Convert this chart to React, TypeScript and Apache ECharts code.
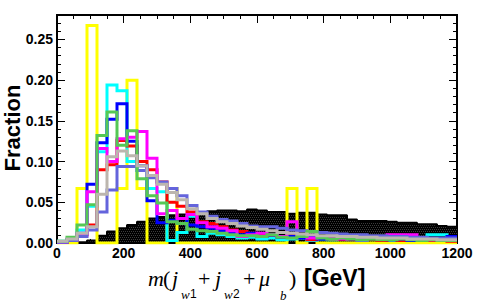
import { useEffect, useRef } from "react";
import * as echarts from "echarts";

// Bin edges (GeV), 30 GeV bins from 0 to 1200
const binEdges = [
  0, 30, 60, 90, 120, 150, 180, 210, 240, 270, 300, 330, 360, 390, 420, 450, 480, 510, 540, 570,
  600, 630, 660, 690, 720, 750, 780, 810, 840, 870, 900, 930, 960, 990, 1020, 1050, 1080, 1110, 1140, 1170, 1200,
];

const xTicks = [0, 200, 400, 600, 800, 1000, 1200];
const yTicks = [0.0, 0.05, 0.1, 0.15, 0.2, 0.25];

// Filled black background histogram
const blackFill = [
  0, 0, 0.001, 0.003, 0.009, 0.014, 0.018, 0.022, 0.026, 0.03, 0.032, 0.034, 0.035, 0.036, 0.038, 0.039, 0.04, 0.04, 0.039, 0.041,
  0.04, 0.038, 0.038, 0.036, 0.037, 0.037, 0.035, 0.034, 0.034, 0.029, 0.027, 0.027, 0.027, 0.026, 0.025, 0.025, 0.023, 0.023, 0.021, 0.02,
];

const yellow = [
  0, 0, 0.067, 0.267, 0, 0, 0.067, 0.2, 0.067, 0, 0, 0.067, 0, 0, 0, 0, 0, 0, 0, 0,
  0, 0, 0, 0.067, 0, 0.067, 0, 0, 0, 0, 0, 0, 0, 0, 0, 0, 0, 0, 0, 0,
];

const cyan = [
  0.002, 0.005, 0.016, 0.045, 0.112, 0.194, 0.187, 0.1, 0.089, 0.067, 0.063, 0.003, 0.013, 0.033, 0.008, 0.012, 0.01, 0.008, 0.006, 0.007,
  0.005, 0.006, 0.004, 0.005, 0.006, 0.003, 0.005, 0.004, 0.006, 0.004, 0.003, 0.005, 0.004, 0.003, 0.004, 0.003, 0.006, 0.01, 0.01, 0.004,
];

const red = [
  0.001, 0.003, 0.01, 0.022, 0.09, 0.096, 0.126, 0.119, 0.1, 0.09, 0.075, 0.05, 0.045, 0.038, 0.026, 0.024, 0.02, 0.016, 0.014, 0.012,
  0.01, 0.01, 0.008, 0.009, 0.007, 0.004, 0.006, 0.005, 0.005, 0.004, 0.004, 0.005, 0.003, 0.004, 0.003, 0.003, 0.004, 0.003, 0.003, 0.002,
];

const blue = [
  0.001, 0.004, 0.012, 0.072, 0.123, 0.152, 0.171, 0.125, 0.095, 0.052, 0.025, 0.028, 0.03, 0.022, 0.02, 0.018, 0.015, 0.012, 0.01, 0.012,
  0.008, 0.01, 0.007, 0.008, 0.006, 0.008, 0.005, 0.006, 0.007, 0.005, 0.004, 0.006, 0.005, 0.004, 0.005, 0.003, 0.004, 0.005, 0.004, 0.008,
];

const magenta = [
  0.001, 0.004, 0.01, 0.063, 0.116, 0.1, 0.128, 0.13, 0.137, 0.104, 0.036, 0.04, 0.03, 0.035, 0.025, 0.02, 0.018, 0.015, 0.008, 0.01,
  0.012, 0.01, 0.008, 0.026, 0.008, 0.006, 0.008, 0.006, 0.005, 0.006, 0.004, 0.008, 0.006, 0.01, 0.01, 0.01, 0.005, 0.004, 0.005, 0.004,
];

const slate = [
  0.001, 0.003, 0.008, 0.016, 0.038, 0.065, 0.094, 0.094, 0.089, 0.08, 0.075, 0.067, 0.058, 0.046, 0.038, 0.033, 0.029, 0.027, 0.024, 0.021,
  0.02, 0.02, 0.018, 0.016, 0.015, 0.014, 0.013, 0.012, 0.011, 0.01, 0.01, 0.009, 0.009, 0.008, 0.008, 0.007, 0.007, 0.006, 0.006, 0.006,
];

const green = [
  0.002, 0.007, 0.022, 0.047, 0.132, 0.161, 0.12, 0.138, 0.079, 0.058, 0.049, 0.026, 0.024, 0.017, 0.015, 0.014, 0.012, 0.01, 0.009, 0.009,
  0.008, 0.01, 0.007, 0.006, 0.008, 0.014, 0.006, 0.005, 0.006, 0.005, 0.004, 0.005, 0.004, 0.004, 0.005, 0.004, 0.003, 0.004, 0.003, 0.003,
];

const gray = [
  0.002, 0.005, 0.012, 0.02, 0.06, 0.106, 0.113, 0.107, 0.095, 0.083, 0.072, 0.062, 0.053, 0.042, 0.036, 0.03, 0.026, 0.024, 0.021, 0.019,
  0.017, 0.015, 0.013, 0.012, 0.011, 0.01, 0.009, 0.009, 0.008, 0.008, 0.007, 0.007, 0.006, 0.006, 0.006, 0.005, 0.005, 0.005, 0.004, 0.004,
];

const lineSeries = [
  { name: "yellow", values: yellow, color: "#ffff00" },
  { name: "cyan", values: cyan, color: "#00ffff" },
  { name: "red", values: red, color: "#ff0000" },
  { name: "blue", values: blue, color: "#0000ff" },
  { name: "magenta", values: magenta, color: "#ff00ff" },
  { name: "slate", values: slate, color: "#6464dc" },
  { name: "green", values: green, color: "#55c855" },
  { name: "gray", values: gray, color: "#bcb6ae" },
];

function stepData(vals: number[]) {
  const pts = vals.map((v, i) => [binEdges[i], v]);
  pts.push([binEdges[binEdges.length - 1], vals[vals.length - 1]]);
  return pts;
}

const SANS = "'Liberation Sans', Arial, Helvetica, sans-serif";
const SERIF = "'Liberation Serif', 'Times New Roman', serif";

export default function App() {
  const ref = useRef<HTMLDivElement>(null);

  useEffect(() => {
    document.body.style.margin = "0";
    if (!ref.current) return;
    const chart = echarts.init(ref.current, undefined, { renderer: "svg" });

    const c = document.createElement("canvas");
    c.width = 4;
    c.height = 4;
    const ctx = c.getContext("2d");
    if (ctx) {
      ctx.fillStyle = "#000";
      ctx.fillRect(0, 0, 4, 4);
      ctx.fillStyle = "#3c3c3c";
      ctx.fillRect(0, 1, 1, 1);
      ctx.fillRect(2, 1, 1, 1);
      ctx.fillRect(1, 3, 1, 1);
      ctx.fillRect(3, 3, 1, 1);
    }

    const axisLineStyle = { color: "#000", width: 2 };
    const xBase = {
      type: "value",
      min: xTicks[0],
      max: xTicks[xTicks.length - 1],
      interval: xTicks[1] - xTicks[0],
      axisLine: { show: true, onZero: false, lineStyle: axisLineStyle },
      axisTick: { show: true, inside: true, length: 8, lineStyle: { color: "#000", width: 1 } },
      minorTick: { show: true, splitNumber: 4, length: 4, lineStyle: { color: "#000", width: 1 } },
      splitLine: { show: false },
      minorSplitLine: { show: false },
    };
    const yMax = 0.28;
    const isMajor = (v: number) => yTicks.some((t) => Math.abs(t - v) < 1e-6);
    const yMajor = {
      type: "value",
      min: 0,
      max: yMax,
      interval: yTicks[1] - yTicks[0],
      axisLine: { show: true, onZero: false, lineStyle: axisLineStyle },
      axisTick: { show: true, inside: true, length: 8, lineStyle: { color: "#000", width: 1 } },
      splitLine: { show: false },
    };
    const yMinor = {
      type: "value",
      min: 0,
      max: yMax,
      interval: 0.01,
      axisLine: { show: true, onZero: false, lineStyle: axisLineStyle },
      axisTick: { show: true, inside: true, length: 4, lineStyle: { color: "#000", width: 1 } },
      axisLabel: { show: false },
      splitLine: { show: false },
    };

    const option: any = {
      animation: false,
      backgroundColor: "#ffffff",
      grid: { left: 57, right: 20, top: 15, bottom: 64, containLabel: false },
      xAxis: [
        {
          ...xBase,
          position: "bottom",
          axisLabel: {
            show: true,
            color: "#000",
            fontFamily: SANS,
            fontWeight: "bold",
            fontSize: 14,
            margin: 3,
            formatter: (v: number) => String(Math.round(v)),
          },
        },
        { ...xBase, position: "top", axisLabel: { show: false } },
      ],
      yAxis: [
        {
          ...yMajor,
          position: "left",
          axisLabel: {
            show: true,
            color: "#000",
            fontFamily: SANS,
            fontWeight: "bold",
            fontSize: 14,
            margin: 4,
            formatter: (v: number) => (isMajor(v) ? v.toFixed(2) : ""),
          },
        },
        { ...yMajor, position: "right", axisLabel: { show: false } },
        { ...yMinor, position: "left" },
        { ...yMinor, position: "right" },
      ],
      series: [
        {
          name: "black",
          type: "line",
          step: "end",
          symbol: "none",
          data: stepData(blackFill),
          lineStyle: { color: "#000", width: 2 },
          areaStyle: { color: { image: c, repeat: "repeat" }, opacity: 1 },
          z: 1,
        },
        ...lineSeries.map((s, i) => ({
          name: s.name,
          type: "line",
          step: "end",
          symbol: "none",
          data: stepData(s.values),
          lineStyle: { color: s.color, width: 3, cap: "butt", join: "miter" },
          z: 2 + i,
        })),
      ],
      graphic: [
        {
          type: "text",
          x: 12,
          y: 128,
          rotation: Math.PI / 2,
          style: {
            text: "Fraction",
            font: `bold 22px ${SANS}`,
            fill: "#000",
            align: "center",
            verticalAlign: "middle",
          },
        },
        { type: "text", x: 148, y: 278, style: { text: "m", font: `italic 22px ${SERIF}`, fill: "#000", align: "left", verticalAlign: "middle" } },
        { type: "text", x: 163, y: 278, style: { text: "(", font: `22px ${SERIF}`, fill: "#000", align: "left", verticalAlign: "middle" } },
        { type: "text", x: 172, y: 278, style: { text: "j", font: `italic 22px ${SERIF}`, fill: "#000", align: "left", verticalAlign: "middle" } },
        { type: "text", x: 181, y: 294, style: { text: "w", font: `italic 13px ${SERIF}`, fill: "#000", align: "left", verticalAlign: "middle" } },
        { type: "text", x: 190, y: 294, style: { text: "1", font: `12px ${SANS}`, fill: "#000", align: "left", verticalAlign: "middle" } },
        { type: "text", x: 198, y: 278, style: { text: "+", font: `22px ${SERIF}`, fill: "#000", align: "left", verticalAlign: "middle" } },
        { type: "text", x: 215, y: 278, style: { text: "j", font: `italic 22px ${SERIF}`, fill: "#000", align: "left", verticalAlign: "middle" } },
        { type: "text", x: 224, y: 294, style: { text: "w", font: `italic 13px ${SERIF}`, fill: "#000", align: "left", verticalAlign: "middle" } },
        { type: "text", x: 233, y: 294, style: { text: "2", font: `12px ${SANS}`, fill: "#000", align: "left", verticalAlign: "middle" } },
        { type: "text", x: 243, y: 278, style: { text: "+", font: `22px ${SERIF}`, fill: "#000", align: "left", verticalAlign: "middle" } },
        { type: "text", x: 259, y: 278, style: { text: "μ", font: `italic 22px ${SERIF}`, fill: "#000", align: "left", verticalAlign: "middle" } },
        { type: "text", x: 280, y: 295, style: { text: "b", font: `italic 13px ${SERIF}`, fill: "#000", align: "left", verticalAlign: "middle" } },
        { type: "text", x: 289, y: 278, style: { text: ")", font: `22px ${SERIF}`, fill: "#000", align: "left", verticalAlign: "middle" } },
        { type: "text", x: 304, y: 278, style: { text: "[GeV]", font: `bold 23px ${SANS}`, fill: "#000", align: "left", verticalAlign: "middle" } },
      ],
    };

    chart.setOption(option);
    return () => chart.dispose();
  }, []);

  return (
    <div
      ref={ref}
      style={{ position: "fixed", left: 0, top: 0, width: 477, height: 307, background: "#fff" }}
    />
  );
}
